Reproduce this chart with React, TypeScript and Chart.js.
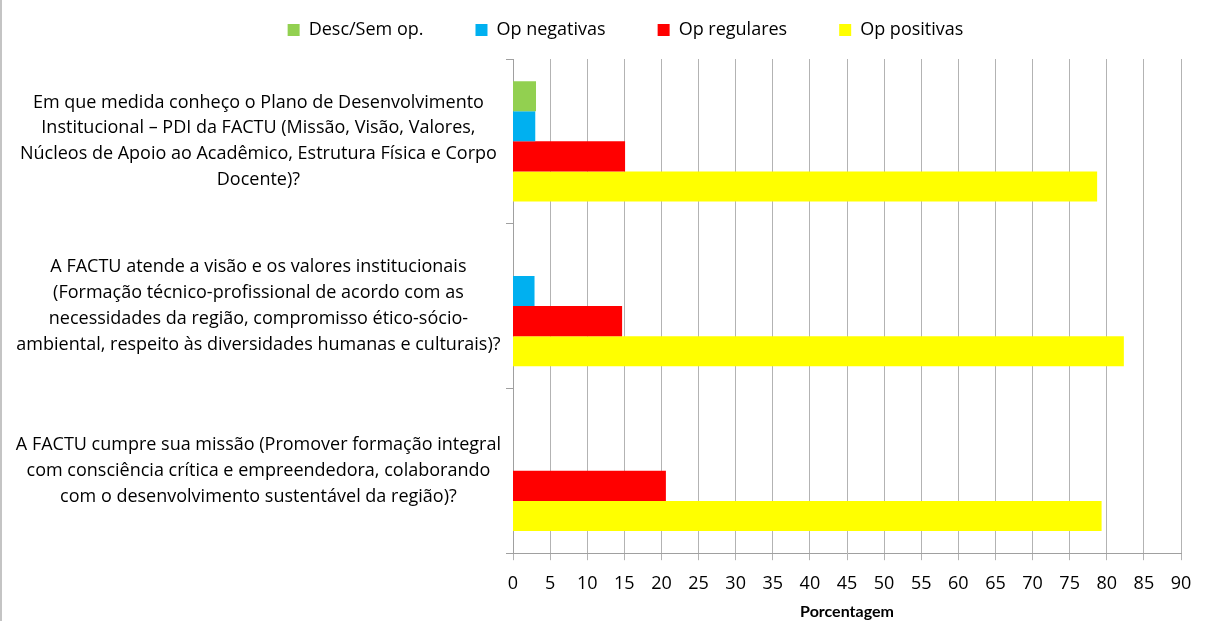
import React, { useEffect, useRef } from "react";
import { Chart, registerables } from "chart.js";

Chart.register(...registerables);

const categories: string[][] = [
  [
    "Em que medida conheço o Plano de Desenvolvimento",
    "Institucional – PDI da FACTU (Missão, Visão, Valores,",
    "Núcleos de Apoio ao Acadêmico, Estrutura Física e Corpo",
    "Docente)?",
  ],
  [
    "A FACTU atende a visão e os valores institucionais",
    "(Formação técnico-profissional de acordo com as",
    "necessidades da região, compromisso ético-sócio-",
    "ambiental, respeito às diversidades humanas e culturais)?",
  ],
  [
    "A FACTU cumpre sua missão (Promover formação integral",
    "com consciência crítica e empreendedora, colaborando",
    "com o desenvolvimento sustentável da região)?",
  ],
];

const seriesNames = ["Desc/Sem op.", "Op negativas", "Op regulares", "Op positivas"];
const descSemOp = [3.1, 0, 0];
const opNegativas = [3.0, 2.9, 0];
const opRegulares = [15.1, 14.7, 20.6];
const opPositivas = [78.7, 82.3, 79.3];
const seriesColors = ["#92D050", "#00B0F0", "#FF0000", "#FFFF00"];

const xMin = 0;
const xMax = 90;
const xStep = 5;
const xTitle = "Porcentagem";

const FONT = "'Open Sans', Lato, sans-serif";
const TITLE_FONT = "Lato, 'Open Sans', sans-serif";
const FS = 18;

const legendShift = {
  id: "legendShift",
  afterLayout(chart: any) {
    const lg = chart.legend;
    if (lg) {
      lg.left += 35;
      lg.right += 35;
    }
  },
};

export default function App() {
  const canvasRef = useRef<HTMLCanvasElement | null>(null);

  useEffect(() => {
    document.body.style.margin = "0";
    const canvas = canvasRef.current;
    if (!canvas) return;
    const values = [descSemOp, opNegativas, opRegulares, opPositivas];
    const chart = new Chart(canvas, {
      type: "bar",
      data: {
        labels: categories,
        datasets: seriesNames.map((name, i) => ({
          label: name,
          data: values[i],
          backgroundColor: seriesColors[i],
          borderWidth: 0,
          categoryPercentage: 0.73,
          barPercentage: 1.0,
        })),
      },
      plugins: [legendShift],
      options: {
        indexAxis: "y",
        animation: false,
        responsive: false,
        maintainAspectRatio: false,
        layout: { padding: { left: 0, right: 24, top: -31, bottom: 1 } },
        plugins: {
          tooltip: { enabled: false },
          legend: {
            position: "top",
            align: "center",
            labels: {
              boxWidth: 12,
              boxHeight: 12,
              padding: 52,
              color: "#000000",
              font: { family: FONT, size: FS },
            },
          },
        },
        scales: {
          xTop: {
            type: "linear",
            position: "top",
            display: true,
            grid: { display: false, drawTicks: false },
            ticks: { display: false },
            border: { display: false },
            afterFit: (scale: any) => {
              scale.height = 10;
            },
          },
          x: {
            type: "linear",
            position: "bottom",
            min: xMin,
            max: xMax,
            ticks: {
              stepSize: xStep,
              color: "#000000",
              font: { family: FONT, size: FS, lineHeight: 1.2 },
              padding: 13,
            },
            grid: {
              color: "#b3b3b3",
              lineWidth: 1,
              tickLength: 7,
              drawTicks: true,
            },
            border: { color: "#a0a0a0", width: 1 },
            title: {
              display: true,
              text: xTitle,
              color: "#000000",
              font: { family: TITLE_FONT, size: 16, weight: "bold", lineHeight: 1.2 },
              padding: { top: -6, bottom: -1 },
            },
          },
          y: {
            type: "category",
            offset: true,
            ticks: {
              color: "#000000",
              font: { family: FONT, size: FS, lineHeight: 1.444 },
              crossAlign: "center",
              padding: 5,
              autoSkip: false,
            },
            grid: {
              drawOnChartArea: false,
              offset: true,
              tickLength: 7,
              color: "#a0a0a0",
            },
            border: { color: "#a0a0a0", width: 1 },
            afterFit: (scale: any) => {
              scale.width = 513;
            },
          },
        },
      },
    });
    return () => chart.destroy();
  }, []);

  return (
    <div
      style={{
        position: "relative",
        width: 1205,
        height: 621,
        background: "#ffffff",
        boxSizing: "border-box",
      }}
    >
      <div
        style={{
          position: "absolute",
          left: 0,
          top: 0,
          width: 2,
          height: 621,
          background: "#c4c4c4",
        }}
      />
      <canvas
        ref={canvasRef}
        width={1205}
        height={621}
        style={{ position: "absolute", left: 0, top: 0, width: 1205, height: 621 }}
      />
    </div>
  );
}
